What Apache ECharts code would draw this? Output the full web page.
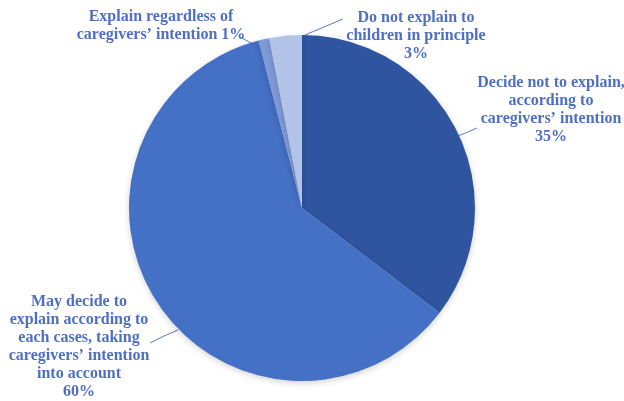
<!DOCTYPE html>
<html>
<head>
<meta charset="utf-8">
<script src="https://cdn.jsdelivr.net/npm/echarts@6/dist/echarts.min.js"></script>
<style>
  html, body { margin: 0; padding: 0; background: #ffffff; }
  #chart { width: 624px; height: 401px; }
</style>
</head>
<body>
<div id="chart"></div>
<script>
  // 数据
  const categories = [
    'Decide not to explain,\naccording to\ncaregivers’ intention',
    'May decide to\nexplain according to\neach cases, taking\ncaregivers’ intention\ninto account',
    'Explain regardless of\ncaregivers’ intention',
    'Do not explain to\nchildren in principle'
  ]
  const values = [35, 60, 1, 3]
  const percentSep = ['\n', '\n', ' ', '\n']
  const sliceColors = ['#2f55a0', '#4470c5', '#7e9ad8', '#b3c2e7']

  // 标签位置 (label centre) 和引导线
  const labelPos = [[551, 110], [79, 347], [161, 26], [416, 36]]
  const linePts = [
    [[477, 128], [463, 134], [450, 139]],
    [[150, 343], [164, 336], [178, 330]],
    [[240, 37], [251, 43], [262, 50]],
    [[343, 19], [312, 32], [281, 46]]
  ]

  const myChart = echarts.init(document.getElementById('chart'))
  const option = {
    animation: false,
    series: [{
      type: 'pie',
      center: [302, 208],
      radius: 173,
      startAngle: 90,
      clockwise: true,
      data: values.map((v, i) => ({
        name: categories[i],
        value: v,
        itemStyle: { color: sliceColors[i] }
      })),
      itemStyle: {
        borderWidth: 0,
        shadowBlur: 6,
        shadowColor: 'rgba(0,0,0,0.18)',
        shadowOffsetY: 2
      },
      label: {
        show: true,
        formatter: (p) => p.name + percentSep[p.dataIndex] + p.value + '%',
        color: '#4f6fc2',
        fontFamily: 'Liberation Serif',
        fontWeight: 'bold',
        fontSize: 16,
        lineHeight: 18,
        align: 'center',
        overflow: 'none',
        width: 200
      },
      labelLine: {
        show: true,
        lineStyle: { color: '#5a78c4', width: 1 }
      },
      labelLayout: (params) => {
        const i = params.dataIndex
        return {
          x: labelPos[i][0],
          y: labelPos[i][1],
          align: 'center',
          verticalAlign: 'middle',
          labelLinePoints: linePts[i]
        }
      }
    }]
  }
  myChart.setOption(option)
</script>
</body>
</html>
